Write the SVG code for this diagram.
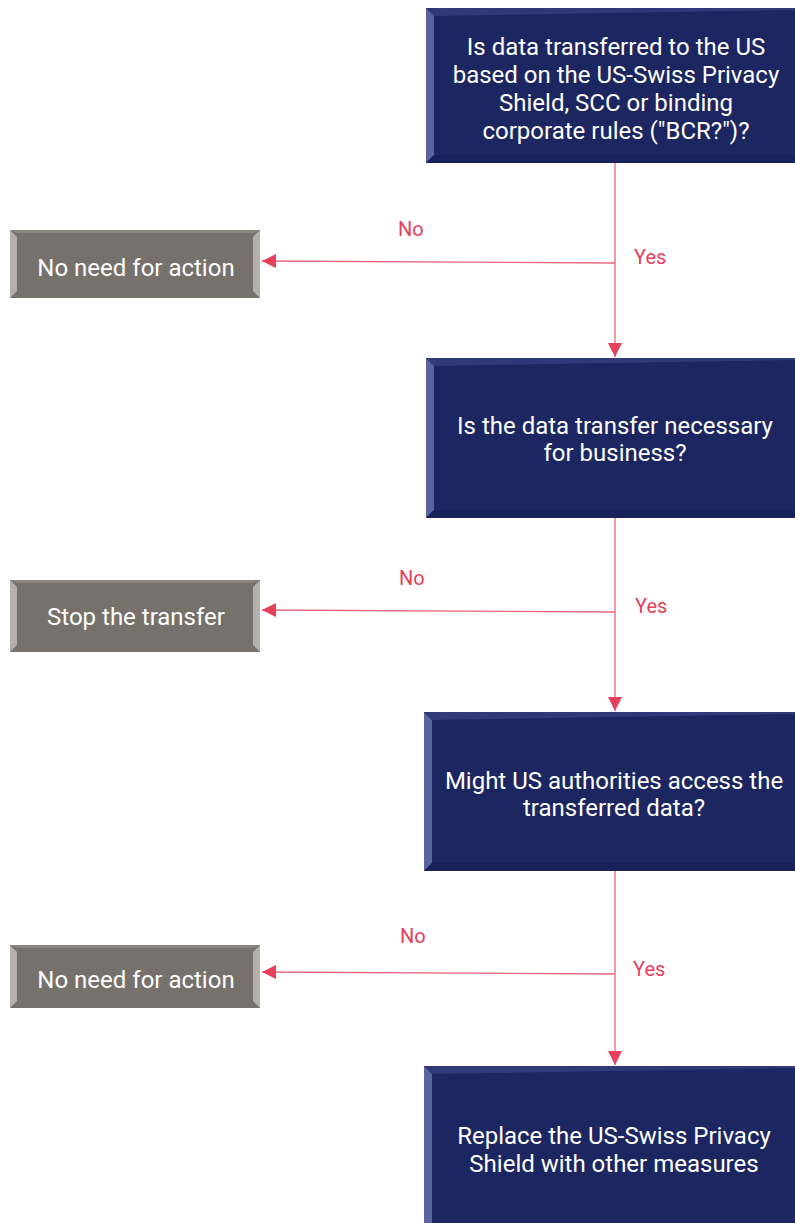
<svg xmlns="http://www.w3.org/2000/svg" width="795" height="1223" viewBox="0 0 795 1223">
<style>
.q{fill:#1c2660}
.g{fill:#76716b}
.ql{fill:#5a64a0}
.qt{fill:#303a78}
.qd{fill:#18215a}
.gl{fill:#b5b0aa}
.gt{fill:#8a857f}
.t{font-family:Roboto,"Liberation Sans",sans-serif;font-size:24px;fill:#ffffff;text-anchor:middle}
.l{font-family:Roboto,"Liberation Sans",sans-serif;font-size:20px;fill:#e8405a}
.c{stroke:#e8667a;stroke-width:1.3;fill:none}
</style>
<defs>
<marker id="ah" viewBox="0 0 10 10" refX="10" refY="5" markerWidth="14" markerHeight="14" markerUnits="userSpaceOnUse" orient="auto">
<path d="M0,0 L10,5 L0,10 z" fill="#e8405a"/>
</marker>
</defs>
<g id="connectors">
<path class="c" d="M615,163 V357" marker-end="url(#ah)"/>
<path class="c" d="M615,263 L262,261" marker-end="url(#ah)"/>
<path class="c" d="M615,518 V711" marker-end="url(#ah)"/>
<path class="c" d="M615,612 L262,610" marker-end="url(#ah)"/>
<path class="c" d="M615,871 V1065" marker-end="url(#ah)"/>
<path class="c" d="M615,974 L262,972" marker-end="url(#ah)"/>
<text class="l" x="398" y="236">No</text>
<text class="l" x="634" y="264">Yes</text>
<text class="l" x="399" y="585">No</text>
<text class="l" x="635" y="613">Yes</text>
<text class="l" x="400" y="943">No</text>
<text class="l" x="633" y="976">Yes</text>
</g>
<g id="q1">
<rect class="q" x="426" y="8" width="369" height="155"/>
<polygon class="ql" points="426,8 434,16 434,155 426,163"/>
<polygon class="qt" points="426,8 795,8 795,10 434,16"/>
<polygon class="qd" points="426,163 434,155 795,155 795,163"/>
<text class="t" x="616" y="55">Is data transferred to the US</text>
<text class="t" x="616" y="83">based on the US-Swiss Privacy</text>
<text class="t" x="616" y="111">Shield, SCC or binding</text>
<text class="t" x="616" y="139">corporate rules ("BCR?")?</text>
</g>
<g id="a1">
<rect class="g" x="10" y="230" width="250" height="68"/>
<polygon class="gl" points="10,230 17,237 17,291 10,298"/>
<polygon class="gl" points="260,230 253,237 253,291 260,298"/>
<polygon class="gt" points="10,230 260,230 253,233 17,233"/>
<text class="t" x="136" y="276">No need for action</text>
</g>
<g id="q2">
<rect class="q" x="426" y="358" width="369" height="160"/>
<polygon class="ql" points="426,358 434,366 434,510 426,518"/>
<polygon class="qt" points="426,358 795,358 795,360 434,366"/>
<polygon class="qd" points="426,518 434,510 795,510 795,518"/>
<text class="t" x="615" y="434">Is the data transfer necessary</text>
<text class="t" x="615" y="461">for business?</text>
</g>
<g id="a2">
<rect class="g" x="10" y="580" width="250" height="72"/>
<polygon class="gl" points="10,580 17,587 17,645 10,652"/>
<polygon class="gl" points="260,580 253,587 253,645 260,652"/>
<polygon class="gt" points="10,580 260,580 253,583 17,583"/>
<text class="t" x="136" y="625">Stop the transfer</text>
</g>
<g id="q3">
<rect class="q" x="424" y="712" width="371" height="159"/>
<polygon class="ql" points="424,712 432,720 432,863 424,871"/>
<polygon class="qt" points="424,712 795,712 795,714 432,720"/>
<polygon class="qd" points="424,871 432,863 795,863 795,871"/>
<text class="t" x="614" y="789">Might US authorities access the</text>
<text class="t" x="614" y="816">transferred data?</text>
</g>
<g id="a3">
<rect class="g" x="10" y="945" width="250" height="63"/>
<polygon class="gl" points="10,945 17,952 17,1001 10,1008"/>
<polygon class="gl" points="260,945 253,952 253,1001 260,1008"/>
<polygon class="gt" points="10,945 260,945 253,948 17,948"/>
<text class="t" x="136" y="988">No need for action</text>
</g>
<g id="q4">
<rect class="q" x="424" y="1066" width="371" height="157"/>
<polygon class="ql" points="424,1066 432,1074 432,1223 424,1223"/>
<polygon class="qt" points="424,1066 795,1066 795,1068 432,1074"/>
<text class="t" x="614" y="1144">Replace the US-Swiss Privacy</text>
<text class="t" x="614" y="1172">Shield with other measures</text>
</g>
</svg>
